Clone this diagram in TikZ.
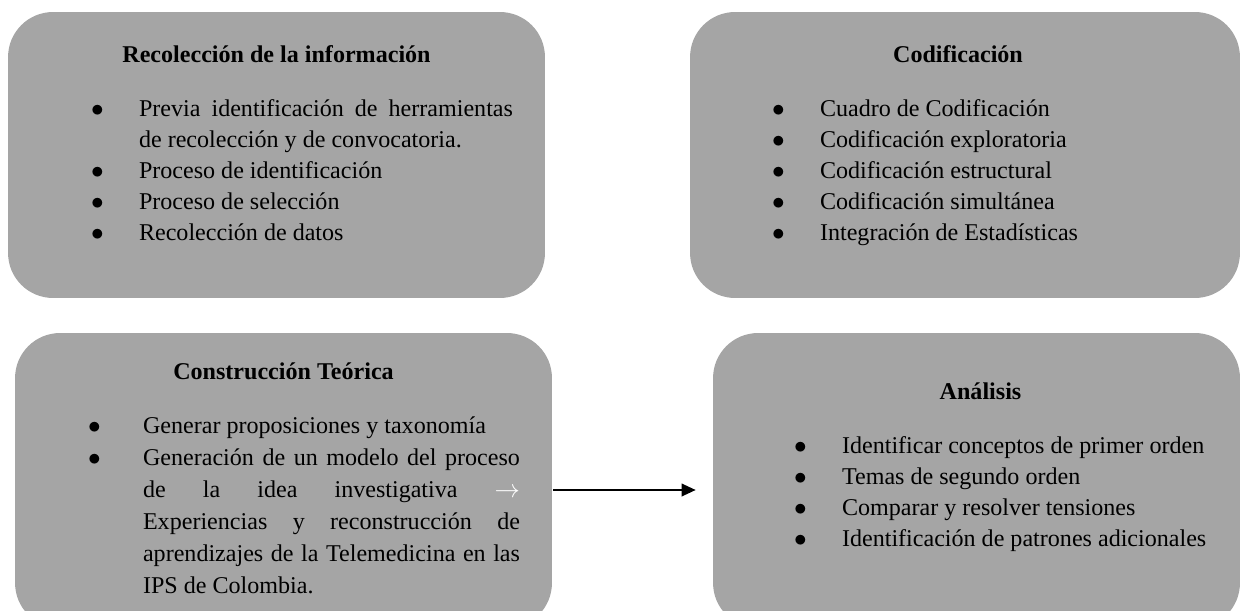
\documentclass[tikz,border=0pt]{standalone}
\usepackage{fontspec}
\setmainfont{Liberation Serif}
\usetikzlibrary{positioning,calc,arrows.meta}
\definecolor{boxgray}{RGB}{165,165,165}
% one bullet line with hanging text
\newcommand{\bitem}[2][0.96cm]{\noindent\hangindent=#1\hangafter=1\strut\makebox[#1][l]{$\bullet$}#2\par}
\begin{document}
\begin{tikzpicture}[x=0.02cm,y=-0.02cm,
    phase/.style={fill=boxgray,rounded corners=0.9cm,inner sep=0pt},
    phasetitle/.style={font=\bfseries\fontsize{13.7}{17.6}\selectfont,inner sep=0pt},
    phaselist/.style={font=\fontsize{13.7}{17.6}\selectfont,align=justify,inner sep=0pt,anchor=north west}]
    \useasboundingbox (0,0) rectangle (1250,611);
    % the four boxes
    \node[phase,minimum width=10.74cm,minimum height=5.72cm] (recol) at (276.5,155) {};
    \node[phase,minimum width=11cm,minimum height=5.72cm] (codif) at (965,155) {};
    \node[phase,minimum width=10.74cm,minimum height=5.9cm] (constr) at (283.5,480.5) {};
    \node[phase,minimum width=10.54cm,minimum height=5.9cm] (anal) at (976.5,480.5) {};
    % titles
    \node[phasetitle] (recolT) at ($(recol.north)+(0,42)$) {Recolección de la información};
    \node[phasetitle] (codifT) at ($(codif.north)+(-7,42)$) {Codificación};
    \node[phasetitle] (constrT) at ($(constr.north)+(0,39)$) {Construcción Teórica};
    \node[phasetitle] (analT) at ($(anal.north)+(4,59)$) {Análisis};
    % lists
    \node[phaselist,text width=8.44cm] (recolL) at ($(recol.north west)+(83,83)$) {%
        \bitem{Previa identificación de herramientas\linebreak de recolección y de convocatoria.}
        \bitem{Proceso de identificación}
        \bitem{Proceso de selección}
        \bitem{Recolección de datos}};
    \node[phaselist,text width=8cm] (codifL) at ($(codif.north west)+(82,83)$) {%
        \bitem{Cuadro de Codificación}
        \bitem{Codificación exploratoria}
        \bitem{Codificación estructural}
        \bitem{Codificación simultánea}
        \bitem{Integración de Estadísticas}};
    \node[phaselist,text width=8.64cm,font=\fontsize{13.7}{18.2}\selectfont] (constrL) at ($(constr.north west)+(73,78)$) {%
        \bitem[1.1cm]{Generar proposiciones y taxonomía}
        \bitem[1.1cm]{Generación de un modelo del proceso\linebreak de la idea investigativa {\color{white}$\rightarrow$}\linebreak Experiencias y reconstrucción de\linebreak aprendizajes de la Telemedicina en las\linebreak IPS de Colombia.}};
    \node[phaselist,text width=8.4cm] (analL) at ($(anal.north west)+(81,99)$) {%
        \bitem{Identificar conceptos de primer orden}
        \bitem{Temas de segundo orden}
        \bitem{Comparar y resolver tensiones}
        \bitem{Identificación de patrones adicionales}};
    % connector
    \draw[line width=1.1pt,-{Triangle[length=0.28cm,width=0.25cm]}] ($(constr.east)+(1,9.5)$) -- ($(anal.west)+(-17,9.5)$);
\end{tikzpicture}
\end{document}
